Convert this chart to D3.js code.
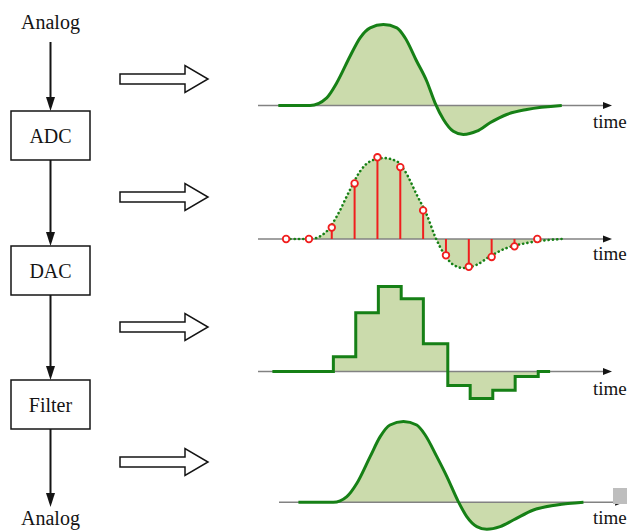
<!DOCTYPE html>
<html>
<head>
<meta charset="utf-8">
<script src="https://cdn.jsdelivr.net/npm/d3@7"></script>
<style>
 html, body { margin: 0; padding: 0; background: #fff; }
 svg { display: block; }
</style>
</head>
<body>
<svg id="chart" width="627" height="531"></svg>
<script>
/* signal chain Analog -> ADC -> DAC -> Filter -> Analog, with one small
   waveform panel per stage. Time axis is shared, 1 unit = 1 sample period. */

// block diagram labels
var blockNames = ['ADC', 'DAC', 'Filter'];
var endLabel = 'Analog';
var axisLabel = 'time';

// analog input (panel 1), amplitude normalised to the peak sample
var analogT = [-0.34, 1.05, 1.78, 2.22, 2.80, 3.24, 3.68, 4.26, 4.85, 5.21, 5.72,
  6.16, 6.52, 6.89, 7.32, 7.76, 8.35, 8.93, 9.66, 10.54, 12.07];
var analogV = [0, 0, 0.094, 0.278, 0.603, 0.829, 0.951, 0.991, 0.951, 0.829, 0.542,
  0.297, 0.033, -0.171, -0.315, -0.355, -0.315, -0.212, -0.110, -0.049, 0];

// ADC samples (panel 2)
var sampleT = [0, 1, 2, 3, 4, 5, 6, 7, 8, 9, 10, 11];
var sampleV = [0, 0, 0.14, 0.68, 1.0, 0.88, 0.35, -0.20, -0.34, -0.22, -0.09, 0];

// DAC zero-order hold (panel 3)
var holdT = [-0.60, 2.07, 3.05, 4.04, 5.04, 6.01, 7.08, 8.06, 9.05, 10.03, 11.04, 11.56];
var holdV = [0, 0.18, 0.72, 1.04, 0.89, 0.34, -0.17, -0.33, -0.23, -0.06, 0, 0];

// filtered output (panel 4), delayed by the filter
var filterT = [0.54, 2.07, 2.66, 3.10, 3.68, 4.12, 4.55, 5.14, 5.72, 6.09, 6.60,
  7.04, 7.54, 7.91, 8.35, 8.79, 9.37, 9.95, 10.83, 11.85, 13.02];
var filterV = [0, 0, 0.070, 0.233, 0.559, 0.804, 0.946, 0.988, 0.946, 0.824, 0.559,
  0.315, 0.009, -0.175, -0.297, -0.330, -0.297, -0.217, -0.094, -0.033, 0];

var graphicAtt = {
 green: 'rgb(22, 128, 22)',
 greenFill: 'rgb(203, 219, 172)',
 red: 'rgb(240, 30, 30)',
 axisColor: 'rgb(130, 130, 130)',
 ink: 'rgb(20, 20, 20)',
 font: "'Liberation Serif', 'Times New Roman', Times, Tinos, 'Nimbus Roman', 'Nimbus Roman No9 L', 'DejaVu Serif', 'Noto Serif', serif",
 peakPx: 81.7
};

var svg = d3.select('#chart');

// shared time scale
var x = d3.scaleLinear().domain([-1.23, 14.27]).range([258, 612]);

function zip(ts, vs)
{
 return ts.map(function(t, i) { return {t: t, v: vs[i]}; });
}

/* draws axis line with small arrow head and the 'time' label
 - g : group of the panel
 - y : amplitude scale of the panel
 - t0, t1 : extent of the axis in time units
 - labelY : baseline of the label */
function drawTimeAxis(g, y, t0, t1, labelY)
{
 var yy = y(0);
 var xEnd = x(t1);
 g.append('line')
  .attr('x1', x(t0)).attr('x2', xEnd - 4)
  .attr('y1', yy).attr('y2', yy)
  .style('stroke', graphicAtt.axisColor)
  .style('stroke-width', '1.5px');
 g.append('path')
  .attr('class', 'axis_head')
  .attr('d', 'M' + xEnd + ',' + yy + 'L' + (xEnd - 9) + ',' + (yy - 3.5) + 'L' + (xEnd - 9) + ',' + (yy + 3.5) + 'Z')
  .style('fill', graphicAtt.ink);
 g.append('text')
  .attr('x', 593)
  .attr('y', labelY)
  .style('font-family', graphicAtt.font)
  .style('font-size', '19px')
  .style('fill', graphicAtt.ink)
  .text(axisLabel);
}

function ampScale(axisY)
{
 return d3.scaleLinear().domain([0, 1]).range([axisY, axisY - graphicAtt.peakPx]);
}

/* filled waveform with solid or dotted outline */
function drawWave(g, data, y, curve, dotted)
{
 var area = d3.area().x(function(d) { return x(d.t); })
  .y0(y(0)).y1(function(d) { return y(d.v); }).curve(curve);
 var line = d3.line().x(function(d) { return x(d.t); })
  .y(function(d) { return y(d.v); }).curve(curve);
 g.append('path').attr('d', area(data)).style('fill', graphicAtt.greenFill);
 return function()
 {
  var p = g.append('path').attr('d', line(data))
   .style('fill', 'none')
   .style('stroke', graphicAtt.green);
  if(dotted)
  {
   p.style('stroke-width', '2.6px')
    .style('stroke-linecap', 'round')
    .style('stroke-dasharray', '0.1 4.2');
  }
  else
  {
   p.style('stroke-width', '3px')
    .style('stroke-linejoin', 'miter');
  }
  return p;
 };
}

// panel 1 : analog input
var g1 = svg.append('g').attr('class', 'panel');
var y1 = ampScale(105.5);
var outline1 = drawWave(g1, zip(analogT, analogV), y1, d3.curveMonotoneX, false);
drawTimeAxis(g1, y1, -1.23, 14.27, 128);
outline1();

// panel 2 : samples over dotted analog curve
var g2 = svg.append('g').attr('class', 'panel');
var y2 = ampScale(239);
var dottedData = [{t: 0, v: 0}].concat(zip(analogT, analogV).filter(function(d) { return d.t > 0; }));
var outline2 = drawWave(g2, dottedData, y2, d3.curveMonotoneX, true);
drawTimeAxis(g2, y2, -1.23, 14.27, 260);
outline2();
var samples = zip(sampleT, sampleV);
g2.selectAll('.stem').data(samples).enter().append('line')
 .attr('class', 'stem')
 .attr('x1', function(d) { return x(d.t); })
 .attr('x2', function(d) { return x(d.t); })
 .attr('y1', y2(0))
 .attr('y2', function(d) { return y2(d.v); })
 .style('stroke', graphicAtt.red)
 .style('stroke-width', '2px');
g2.selectAll('.sample').data(samples).enter().append('circle')
 .attr('class', 'sample')
 .attr('cx', function(d) { return x(d.t); })
 .attr('cy', function(d) { return y2(d.v); })
 .attr('r', 3.3)
 .style('fill', '#fff')
 .style('stroke', graphicAtt.red)
 .style('stroke-width', '1.8px');

// panel 3 : staircase from the DAC
var g3 = svg.append('g').attr('class', 'panel');
var y3 = ampScale(371.5);
var outline3 = drawWave(g3, zip(holdT, holdV), y3, d3.curveStepAfter, false);
drawTimeAxis(g3, y3, -1.23, 14.27, 395);
outline3();

// panel 4 : smoothed output
var g4 = svg.append('g').attr('class', 'panel');
var y4 = ampScale(502.3);
var outline4 = drawWave(g4, zip(filterT, filterV), y4, d3.curveMonotoneX, false);
drawTimeAxis(g4, y4, -0.31, 14.8, 524);
outline4();
// grey marker sitting on the axis end
g4.append('rect')
 .attr('x', 613).attr('y', 488).attr('width', 15).attr('height', 16)
 .style('fill', 'rgb(190, 190, 190)');

/* block diagram on the left */
var diag = svg.append('g').attr('class', 'diagram');
var boxX = 11, boxW = 79, boxH = 49;
var boxTops = [111, 246, 380];
var colX = boxX + boxW / 2;

function arrowDown(yStart, yEnd)
{
 diag.append('line')
  .attr('x1', colX).attr('x2', colX)
  .attr('y1', yStart).attr('y2', yEnd - 10)
  .style('stroke', graphicAtt.ink)
  .style('stroke-width', '2px');
 diag.append('path')
  .attr('d', 'M' + colX + ',' + yEnd + 'L' + (colX - 4.5) + ',' + (yEnd - 14) + 'L' + (colX + 4.5) + ',' + (yEnd - 14) + 'Z')
  .style('fill', graphicAtt.ink);
}

function label(xPos, yPos, txt)
{
 diag.append('text')
  .attr('x', xPos).attr('y', yPos)
  .attr('text-anchor', 'middle')
  .style('font-family', graphicAtt.font)
  .style('font-size', '20px')
  .style('fill', graphicAtt.ink)
  .text(txt);
}

label(colX, 29, endLabel);

arrowDown(42, boxTops[0]);
blockNames.forEach(function(name, i)
{
 var top = boxTops[i];
 diag.append('rect')
  .attr('x', boxX).attr('y', top)
  .attr('width', boxW).attr('height', boxH)
  .style('fill', '#fff')
  .style('stroke', graphicAtt.ink)
  .style('stroke-width', '1.5px');
 label(colX, top + boxH / 2 + 7, name);
 var next = (i + 1 < boxTops.length) ? boxTops[i + 1] : 507;
 arrowDown(top + boxH, next);
});

label(colX, 525, endLabel);

// hollow block arrows pointing at each panel
var hollowY = [79, 197, 327, 462];
hollowY.forEach(function(cy)
{
 var pts = [[120, cy - 5], [185, cy - 5], [185, cy - 13.5], [208, cy],
  [185, cy + 13.5], [185, cy + 5], [120, cy + 5]];
 diag.append('polygon')
  .attr('points', pts.map(function(p) { return p.join(','); }).join(' '))
  .style('fill', '#fff')
  .style('stroke', graphicAtt.ink)
  .style('stroke-width', '1.5px');
});
</script>
</body>
</html>
